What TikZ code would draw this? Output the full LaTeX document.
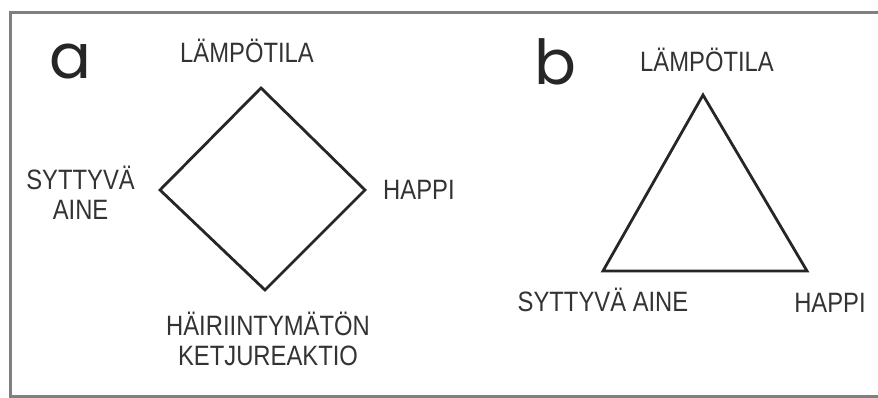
\documentclass[tikz,border=0pt]{standalone}
\usepackage{fontspec}
\setmainfont{Liberation Sans}[FakeStretch=0.85]
\newfontfamily\panelfont{Poppins}
\usetikzlibrary{positioning}

\begin{document}
\begin{tikzpicture}[
    x=1pt, y=1pt,
    font=\fontsize{28}{30}\selectfont,
    every node/.style={text=black!80},
    factor/.style={align=center, inner sep=0pt},
    panel/.style={font=\panelfont\fontsize{62}{62}\selectfont, inner sep=0pt, text=black!85},
    side/.style={line width=2.8pt, line join=miter, draw=black!85},
    frame/.style={line width=3pt, draw=black!50}
  ]
    \useasboundingbox (0,0) rectangle (878,398);
    \draw[frame] (878,385) -- (10,385) -- (10,1) -- (878,1);

    % a: square of fire
    \node[panel] (a) at (70,336) {a};
    \coordinate (atop) at (261,310);
    \coordinate (aright) at (365,208);
    \coordinate (abot) at (265,108);
    \coordinate (aleft) at (160,208);
    \draw[side] (atop) -- (aright) -- (abot) -- (aleft) -- cycle;

    \node[factor, above=25pt of atop, xshift=-14pt] (atemp) {LÄMPÖTILA};
    \node[factor, right=18pt of aright] (aoxy) {HAPPI};
    \node[factor, left=25pt of aleft, yshift=-3pt] (afuel) {SYTTYVÄ\\AINE};
    \node[factor, below=22pt of abot, xshift=3pt] (achain) {HÄIRIINTYMÄTÖN\\KETJUREAKTIO};

    % b: triangle of fire
    \node[panel] (b) at (555,336) {b};
    \coordinate (btop) at (703,303);
    \coordinate (bleft) at (603,127);
    \coordinate (bright) at (807,127);
    \draw[side] (btop) -- (bright) -- (bleft) -- cycle;

    \node[factor, above=23pt of btop, xshift=4pt] (btemp) {LÄMPÖTILA};
    \node[factor, below=17pt of bleft] (bfuel) {SYTTYVÄ AINE};
    \node[factor, below=22pt of bright, xshift=23pt] (boxy) {HAPPI};
\end{tikzpicture}
\end{document}
